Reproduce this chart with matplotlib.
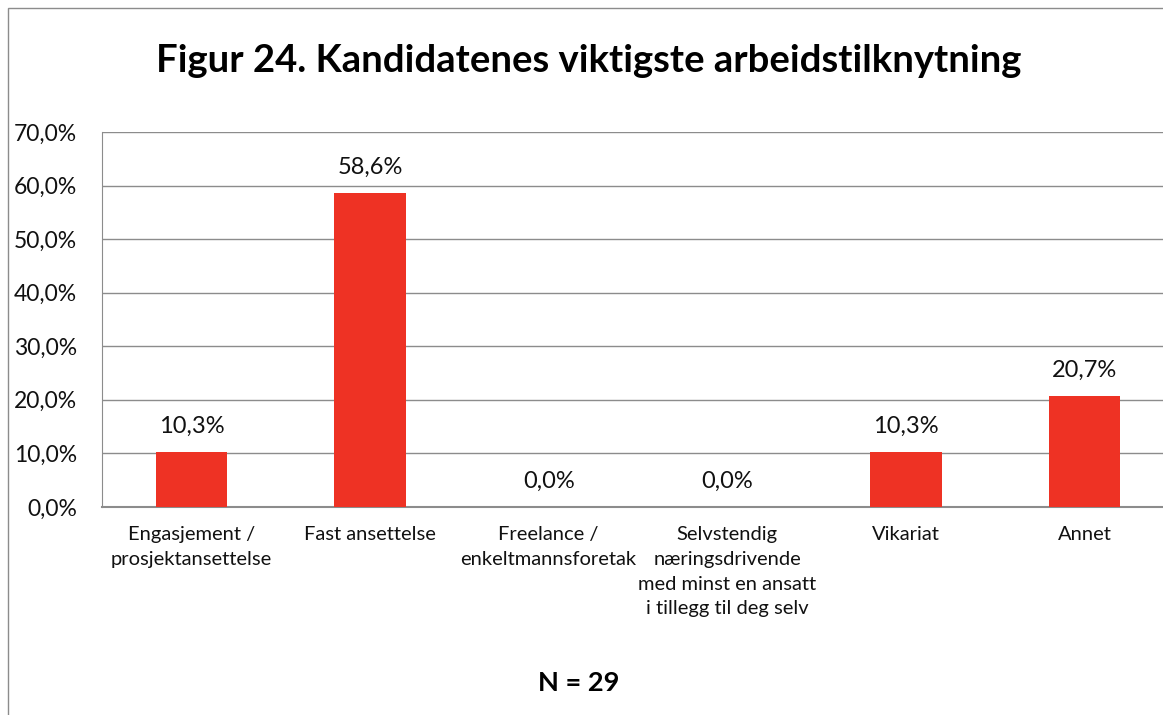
import matplotlib.pyplot as plt
from matplotlib.patches import Rectangle

# data
categories = [
    "Engasjement /\nprosjektansettelse",
    "Fast ansettelse",
    "Freelance /\nenkeltmannsforetak",
    "Selvstendig\nnæringsdrivende\nmed minst en ansatt\ni tillegg til deg selv",
    "Vikariat",
    "Annet",
]
shares = [10.3, 58.6, 0.0, 0.0, 10.3, 20.7]
y_ticks = [0, 10, 20, 30, 40, 50, 60, 70]

plt.rcParams["font.family"] = ["Lato", "DejaVu Sans"]

fig = plt.figure(figsize=(11.63, 7.15), dpi=100)
ax = fig.add_axes([0.0877, 0.291, 0.9218, 0.5244])

x = range(len(categories))
ax.bar(x, shares, width=0.4, color="#EE3224", zorder=3)

for xi, v in zip(x, shares):
    ax.text(xi, v + 2.8, f"{v:.1f}%".replace(".", ","), ha="center", va="bottom",
            fontsize=17, color="#111111")

ax.set_xlim(-0.5, len(categories) - 0.5)
ax.set_ylim(0, 70)
ax.set_yticks(y_ticks)
ax.set_yticklabels([f"{t},0%" for t in y_ticks], fontsize=16.5)
ax.set_xticks(list(x))
ax.set_xticklabels(categories, fontsize=14.5, linespacing=1.55, va="top")
ax.tick_params(axis="both", length=0, colors="#111111")
ax.tick_params(axis="y", pad=18)
ax.tick_params(axis="x", pad=14)

ax.grid(axis="y", color="#8c8c8c", linewidth=1, zorder=0)
for side in ["top", "right"]:
    ax.spines[side].set_visible(False)
ax.spines["left"].set_color("#8c8c8c")
ax.spines["bottom"].set_color("#8c8c8c")
ax.spines["bottom"].set_linewidth(1.5)

fig.text(0.506, 0.915, "Figur 24. Kandidatenes viktigste arbeidstilknytning",
         ha="center", va="center", fontsize=27.5, fontweight="bold")
fig.text(0.498, 0.045, "N = 29", ha="center", va="center", fontsize=19.5, fontweight="bold")

# chart border
fig.patches.append(Rectangle((0.0065, -0.1), 1.2, 1.1 - 0.0115, transform=fig.transFigure,
                             fill=False, edgecolor="#8c8c8c", linewidth=1))

fig.savefig("out.png", dpi=100)
